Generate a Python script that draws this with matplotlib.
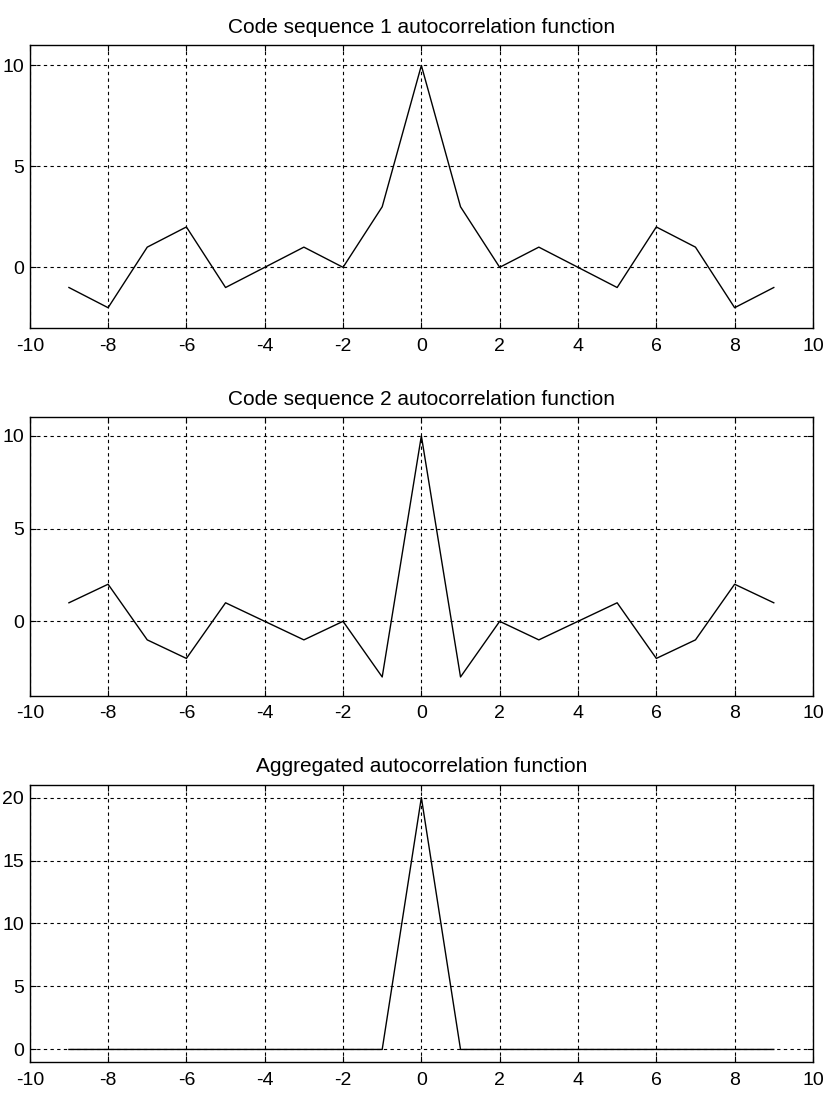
import numpy as np
from matplotlib import pyplot as plt

# lag values and autocorrelation values
lags = [-9, -8, -7, -6, -5, -4, -3, -2, -1, 0, 1, 2, 3, 4, 5, 6, 7, 8, 9]
acf_code1 = [-1, -2, 1, 2, -1, 0, 1, 0, 3, 10, 3, 0, 1, 0, -1, 2, 1, -2, -1]
acf_code2 = [1, 2, -1, -2, 1, 0, -1, 0, -3, 10, -3, 0, -1, 0, 1, -2, -1, 2, 1]
acf_total = [0, 0, 0, 0, 0, 0, 0, 0, 0, 20, 0, 0, 0, 0, 0, 0, 0, 0, 0]

titles = ['Code sequence 1 autocorrelation function',
          'Code sequence 2 autocorrelation function',
          'Aggregated autocorrelation function']
xticks = [-10, -8, -6, -4, -2, 0, 2, 4, 6, 8, 10]
yticks = [[0, 5, 10], [0, 5, 10], [0, 5, 10, 15, 20]]
ylims = [(-3, 11), (-4, 11), (-1, 21)]

plt.rcParams['font.family'] = ['Liberation Sans', 'DejaVu Sans']
plt.rcParams['axes.unicode_minus'] = False

fig = plt.figure(figsize=(8.27, 11.04), dpi=100)
positions = [[0.036, 0.703, 0.947, 0.256],
             [0.036, 0.370, 0.947, 0.252],
             [0.036, 0.038, 0.947, 0.251]]

for pos, series, title, yt, yl in zip(positions,
                                      [acf_code1, acf_code2, acf_total],
                                      titles, yticks, ylims):
    ax = fig.add_axes(pos)
    ax.plot(lags, series, color='black', linewidth=1.0)
    ax.set_xlim(-10, 10)
    ax.set_ylim(*yl)
    ax.set_xticks(xticks)
    ax.set_yticks(yt)
    ax.set_title(title, fontsize=15, pad=9)
    ax.grid(True, color='black', linestyle=(0, (3, 3)), linewidth=0.8)
    ax.tick_params(direction='in', labelsize=14, length=4,
                   top=True, right=True)
    ax.tick_params(axis='y', pad=4)
    ax.tick_params(axis='x', pad=7)
    for spine in ax.spines.values():
        spine.set_linewidth(1.0)

plt.savefig('out.png')
plt.close()
